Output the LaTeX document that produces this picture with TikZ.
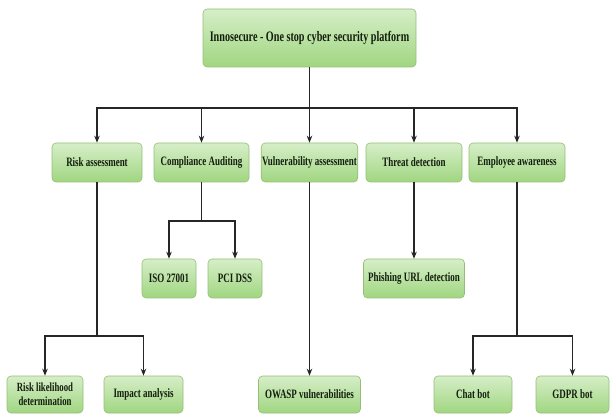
\documentclass[tikz,border=0pt]{standalone}
\usepackage{fontspec}
\setmainfont{Liberation Serif}[FakeStretch=0.7]
\usetikzlibrary{arrows.meta,calc}
\definecolor{boxtop}{RGB}{214,238,200}
\definecolor{boxbot}{RGB}{160,214,128}
\definecolor{boxedge}{RGB}{150,190,120}
\definecolor{txt}{RGB}{20,30,15}
\tikzset{
  box/.style={draw=boxedge, line width=0.6pt, rounded corners=4pt,
    top color=boxtop, bottom color=boxbot, align=center,
    font=\fontsize{12.8}{13}\selectfont\bfseries, text=txt, inner sep=1pt},
  conn/.style={line width=1.4pt, draw=black!85},
  arr/.style={conn, -{Stealth[length=7pt,width=5.5pt]}}
}
\begin{document}
\begin{tikzpicture}[x=1pt,y=1pt]
\useasboundingbox (0,0) rectangle (611,-414);
% top
\node[box, minimum width=213, minimum height=58, font=\fontsize{14.5}{15}\selectfont\bfseries] (top) at (309.5,-38) {Innosecure - One stop cyber security platform};
% level 2
\node[box, minimum width=90, minimum height=39] (risk) at (97,-162.5) {Risk assessment};
\node[box, minimum width=95, minimum height=39] (comp) at (201.5,-162.5) {Compliance Auditing};
\node[box, minimum width=96, minimum height=39] (vuln) at (309.5,-162.5) {Vulnerability assessment};
\node[box, minimum width=96, minimum height=39] (threat) at (414,-162.5) {Threat detection};
\node[box, minimum width=96, minimum height=39] (emp) at (517,-162.5) {Employee awareness};
% level 3
\node[box, minimum width=54, minimum height=39] (iso) at (169,-278.5) {ISO 27001};
\node[box, minimum width=54, minimum height=39] (pci) at (235,-278.5) {PCI DSS};
\node[box, minimum width=101, minimum height=39] (phish) at (414,-278.5) {Phishing URL detection};
% level 4
\node[box, minimum width=76, minimum height=37, font=\fontsize{12.5}{14}\selectfont\bfseries] (rl) at (45,-394.5) {Risk likelihood\\determination};
\node[box, minimum width=79, minimum height=37] (impact) at (143.5,-394.5) {Impact analysis};
\node[box, minimum width=102, minimum height=37] (owasp) at (309.5,-394.5) {OWASP vulnerabilities};
\node[box, minimum width=78, minimum height=37] (chat) at (473,-394.5) {Chat bot};
\node[box, minimum width=73, minimum height=37] (gdpr) at (572.5,-394.5) {GDPR bot};
% connectors
\coordinate (b1) at (309.5,-108);
\draw[conn] (top.south) -- (b1);
\draw[arr] (b1) -| (risk.north);
\draw[arr] (b1) -| (comp.north);
\draw[arr] (b1) -- (vuln.north);
\draw[arr] (b1) -| (threat.north);
\draw[arr] (b1) -| (emp.north);
\coordinate (b2) at (201.5,-221);
\draw[conn] (comp.south) -- (b2);
\draw[arr] (b2) -| (iso.north);
\draw[arr] (b2) -| (pci.north);
\draw[arr] (threat.south) -- (phish.north);
\draw[arr] (vuln.south) -- (owasp.north);
\coordinate (b3) at (97,-336);
\draw[conn] (risk.south) -- (b3);
\draw[arr] (b3) -| (rl.north);
\draw[arr] (b3) -| (impact.north);
\coordinate (b4) at (517,-336);
\draw[conn] (emp.south) -- (b4);
\draw[arr] (b4) -| (chat.north);
\draw[arr] (b4) -| (gdpr.north);
\end{tikzpicture}
\end{document}
